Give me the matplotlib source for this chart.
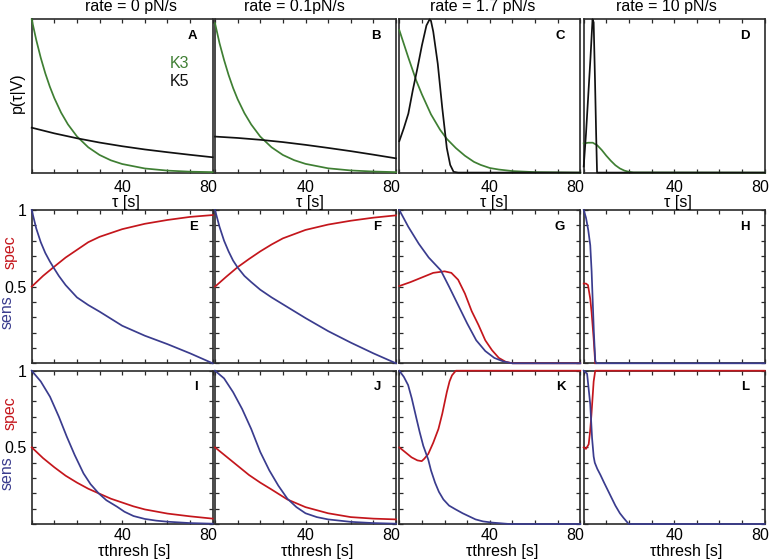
import matplotlib
matplotlib.use("Agg")
import matplotlib.pyplot as plt
import matplotlib.transforms as mtransforms
import numpy as np

plt.rcParams['font.family'] = ['Liberation Sans', 'DejaVu Sans']

W, H = 769, 559

# ---------------- data ----------------
titles = ["rate = 0 pN/s", "rate = 0.1pN/s", "rate = 1.7 pN/s", "rate = 10 pN/s"]
letters = ["A", "B", "C", "D", "E", "F", "G", "H", "I", "J", "K", "L"]
xtick_values = [40, 80]
xtick_text = ["40", "80"]
ytick_labels = {0.5: "0.5", 1.0: "1"}

# Row 1: p(tau|V), normalized per panel; green = K3, black = K5
A_k3_x = [0, 2, 4, 6, 8, 10, 13, 16, 20, 25, 30, 35, 40, 50, 60, 70, 80]
A_k3_y = [1.0, 0.866, 0.749, 0.648, 0.561, 0.486, 0.391, 0.315, 0.236, 0.165, 0.115, 0.080, 0.056, 0.027, 0.013, 0.006, 0.003]
A_k5_x = [0, 10, 20, 30, 40, 50, 60, 70, 80]
A_k5_y = [0.293, 0.256, 0.224, 0.196, 0.172, 0.151, 0.133, 0.116, 0.100]

B_k3_x = [0, 2, 4, 6, 8, 10, 13, 16, 20, 25, 30, 35, 40, 50, 60, 70, 80]
B_k3_y = [0.975, 0.844, 0.735, 0.637, 0.552, 0.479, 0.388, 0.314, 0.235, 0.165, 0.115, 0.081, 0.057, 0.028, 0.014, 0.007, 0.003]
B_k5_x = [0, 10, 20, 30, 40, 50, 60, 70, 80]
B_k5_y = [0.235, 0.226, 0.214, 0.199, 0.181, 0.161, 0.140, 0.117, 0.093]

C_k3_x = [0, 4, 7.5, 10, 14, 18, 21, 25, 29, 33, 36, 40, 44, 50, 60, 80]
C_k3_y = [0.93, 0.75, 0.60, 0.51, 0.38, 0.28, 0.22, 0.16, 0.11, 0.07, 0.05, 0.03, 0.02, 0.01, 0.003, 0.0]
C_k5_x = [0, 2, 4, 6, 8, 10, 12, 13.4, 14, 15, 17, 19, 21, 22.5, 24, 26, 80]
C_k5_y = [0.205, 0.29, 0.385, 0.54, 0.68, 0.83, 0.96, 1.0, 0.99, 0.92, 0.71, 0.42, 0.16, 0.05, 0.005, 0.0, 0.0]

D_k3_x = [0, 2, 4, 6, 8, 10, 12, 14, 16, 18, 20, 22, 80]
D_k3_y = [0.19, 0.195, 0.195, 0.178, 0.147, 0.11, 0.077, 0.048, 0.027, 0.013, 0.005, 0.001, 0.0]
D_k5_x = [0, 1, 2, 3, 3.9, 4.4, 5, 5.5, 5.9, 80]
D_k5_y = [0.04, 0.25, 0.5, 0.75, 1.0, 0.98, 0.6, 0.25, 0.0, 0.0]

# Row 2: sens (blue) / spec (red)
E_sens_x = [0, 2, 4, 6, 8, 9.6, 12, 15, 20, 25, 30, 40, 50, 60, 70, 80]
E_sens_y = [1.0, 0.88, 0.79, 0.72, 0.665, 0.626, 0.57, 0.51, 0.43, 0.38, 0.337, 0.245, 0.18, 0.125, 0.065, 0.0]
E_spec_x = [0, 5, 9.6, 15, 20, 25, 30, 40, 50, 60, 70, 80]
E_spec_y = [0.5, 0.57, 0.626, 0.69, 0.74, 0.79, 0.825, 0.875, 0.91, 0.935, 0.955, 0.967]

F_sens_x = [0, 2, 4, 6, 8, 10, 13, 16, 20, 25, 30, 40, 50, 60, 70, 80]
F_sens_y = [1.0, 0.89, 0.80, 0.73, 0.67, 0.625, 0.57, 0.53, 0.48, 0.43, 0.385, 0.295, 0.21, 0.135, 0.065, 0.0]
F_spec_x = [0, 5, 9.9, 15, 20, 25, 30, 40, 50, 60, 70, 80]
F_spec_y = [0.5, 0.565, 0.626, 0.68, 0.73, 0.775, 0.815, 0.87, 0.905, 0.93, 0.95, 0.965]

G_sens_x = [0, 4, 8.6, 13, 18.3, 22, 26, 30, 34, 38, 42, 46, 50, 80]
G_sens_y = [1.0, 0.89, 0.78, 0.69, 0.607, 0.5, 0.38, 0.26, 0.15, 0.08, 0.035, 0.012, 0.0, 0.0]
G_spec_x = [0, 5, 10, 15, 20, 23, 26, 29, 32, 35, 38, 41, 44, 47, 50, 80]
G_spec_y = [0.504, 0.53, 0.56, 0.59, 0.60, 0.59, 0.545, 0.455, 0.34, 0.25, 0.15, 0.085, 0.035, 0.01, 0.0, 0.0]

H_sens_x = [0, 1, 2, 2.9, 3.5, 4, 4.5, 5.1, 5.5, 80]
H_sens_y = [1.0, 0.95, 0.87, 0.77, 0.6, 0.4, 0.2, 0.02, 0.0, 0.0]
H_spec_x = [0, 1, 1.9, 2.9, 3.5, 4.4, 5.1]
H_spec_y = [0.52, 0.52, 0.51, 0.42, 0.33, 0.16, 0.0]

# Row 3: sens (blue) / spec (red)
I_sens_x = [0, 4, 8.1, 12, 15.5, 19, 22.9, 26, 29.6, 33, 37.7, 41, 45, 50, 55, 60, 70, 80]
I_sens_y = [1.0, 0.93, 0.83, 0.7, 0.57, 0.45, 0.33, 0.26, 0.2, 0.155, 0.113, 0.08, 0.052, 0.033, 0.022, 0.015, 0.006, 0.002]
I_spec_x = [0, 5, 10, 15, 20, 25, 29.6, 35, 40, 45, 50, 60, 70, 80]
I_spec_y = [0.5, 0.43, 0.37, 0.315, 0.27, 0.23, 0.2, 0.165, 0.14, 0.115, 0.095, 0.068, 0.05, 0.035]

J_sens_x = [0, 4, 8, 12, 16, 20, 24, 28, 32, 36, 40, 45, 50, 60, 70, 80]
J_sens_y = [1.0, 0.95, 0.86, 0.75, 0.62, 0.47, 0.35, 0.25, 0.165, 0.11, 0.07, 0.045, 0.03, 0.014, 0.006, 0.002]
J_spec_x = [0, 5, 10, 15, 20, 25, 32, 40, 50, 60, 70, 80]
J_spec_y = [0.5, 0.44, 0.38, 0.32, 0.27, 0.225, 0.16, 0.11, 0.07, 0.045, 0.035, 0.03]

K_sens_x = [0, 2, 3.9, 5.5, 7.6, 9, 10.6, 12.8, 14, 15.8, 17.5, 19.5, 22, 24.8, 28, 33.7, 37, 41.2, 48.7, 80]
K_sens_y = [1.0, 0.96, 0.906, 0.82, 0.687, 0.6, 0.51, 0.42, 0.35, 0.27, 0.21, 0.16, 0.12, 0.096, 0.07, 0.03, 0.017, 0.009, 0.0, 0.0]
K_spec_x = [0, 2.5, 5.4, 8, 9.9, 11, 12.8, 15, 17.3, 19, 21, 22.2, 23.3, 25, 80]
K_spec_y = [0.5, 0.47, 0.435, 0.415, 0.41, 0.425, 0.457, 0.53, 0.62, 0.72, 0.86, 0.93, 0.97, 1.0, 1.0]

L_sens_x = [0, 1.5, 2.9, 3.7, 4.4, 4.9, 6, 7.4, 9, 11, 14, 16, 17.6, 19.9, 80]
L_sens_y = [1.0, 0.98, 0.78, 0.56, 0.44, 0.40, 0.36, 0.32, 0.27, 0.21, 0.12, 0.07, 0.04, 0.0, 0.0]
L_spec_x = [0, 1, 2.2, 2.8, 3.4, 4.4, 5.1, 80]
L_spec_y = [0.5, 0.49, 0.52, 0.6, 0.71, 0.93, 1.0, 1.0]

row1 = [(A_k3_x, A_k3_y, A_k5_x, A_k5_y), (B_k3_x, B_k3_y, B_k5_x, B_k5_y),
        (C_k3_x, C_k3_y, C_k5_x, C_k5_y), (D_k3_x, D_k3_y, D_k5_x, D_k5_y)]
row2 = [(E_sens_x, E_sens_y, E_spec_x, E_spec_y), (F_sens_x, F_sens_y, F_spec_x, F_spec_y),
        (G_sens_x, G_sens_y, G_spec_x, G_spec_y), (H_sens_x, H_sens_y, H_spec_x, H_spec_y)]
row3 = [(I_sens_x, I_sens_y, I_spec_x, I_spec_y), (J_sens_x, J_sens_y, J_spec_x, J_spec_y),
        (K_sens_x, K_sens_y, K_spec_x, K_spec_y), (L_sens_x, L_sens_y, L_spec_x, L_spec_y)]

# ---------------- style ----------------
GREEN = '#3f7f33'
BLACK = '#111111'
BLUE = '#3a3c8e'
RED = '#c4161c'
SPINE = '#2a2a2a'
FS = 11.5
LW = 1.25

fig = plt.figure(figsize=(W / 100, H / 100), dpi=100)

col_left = [31.7, 215.0, 399.3, 583.7]
col_w = 181.0
row_top = [19.3, 210.0, 370.7]
row_h = 153.3
xlabel_pad_px = {0: 7.0, 2: 3.5}
xlabel_dx_px = {40: 0.0, 80: -5.0}


def fx(x):
    return x / W


def fy(y):
    return 1 - y / H


def make_ax(r, c):
    ax = fig.add_axes([fx(col_left[c]), fy(row_top[r] + row_h), col_w / W, row_h / H])
    ax.set_xlim(0, 80)
    ax.set_ylim(0, 1)
    for s in ax.spines.values():
        s.set_color(SPINE)
        s.set_linewidth(1.2)
    ax.set_xticks(np.arange(0, 81, 10))
    ax.set_xticklabels([])
    if r in (0, 2):
        for v, t in zip(xtick_values, xtick_text):
            tr = mtransforms.blended_transform_factory(ax.transData, ax.transAxes) + \
                mtransforms.ScaledTranslation(xlabel_dx_px[v] / 100, -xlabel_pad_px[r] / 100,
                                              fig.dpi_scale_trans)
            ax.text(v, 0, t, transform=tr, ha='center', va='top', fontsize=FS, clip_on=False)
    if r == 0:
        ax.set_yticks([])
    else:
        yt = np.round(np.arange(0, 1.01, 0.1), 2)
        ax.set_yticks(yt)
        if c == 0:
            ax.set_yticklabels([ytick_labels.get(float(v), "") for v in yt])
        else:
            ax.set_yticklabels([])
    ax.tick_params(direction='in', length=3, width=0.9, color=SPINE,
                   top=True, right=(r != 0), labelsize=FS)
    ax.tick_params(axis='y', pad=4)
    return ax


axes = []
for r in range(3):
    for c in range(4):
        ax = make_ax(r, c)
        axes.append(ax)
        if r == 0:
            gx, gy, kx, ky = row1[c]
            ax.plot(gx, gy, color=GREEN, lw=LW, zorder=3, clip_on=False)
            ax.plot(kx, ky, color=BLACK, lw=LW, zorder=3, clip_on=False)
        else:
            sx, sy, px_, py_ = (row2 if r == 1 else row3)[c]
            ax.plot(px_, py_, color=RED, lw=LW, zorder=3, clip_on=False)
            ax.plot(sx, sy, color=BLUE, lw=LW, zorder=3.1, clip_on=False)
        ax.text(1 - 15 / col_w, 1 - 19.5 / row_h, letters[r * 4 + c], transform=ax.transAxes,
                ha='right', va='baseline', fontsize=9.5, fontweight='bold')

# titles
title_cx = [131, 294, 483, 666]
for t, cx in zip(titles, title_cx):
    fig.text(fx(cx), fy(11.5), t, ha='center', va='baseline', fontsize=FS)

# x labels
for c in range(4):
    cx = col_left[c] + col_w / 2
    fig.text(fx(cx + 4), fy(207.0), "τ [s]", ha='center', va='baseline', fontsize=FS)
    fig.text(fx(cx + 12), fy(556.0), "τthresh [s]", ha='center', va='baseline', fontsize=FS)

# legend in panel A
axA = axes[0]
axA.text((169.5 - col_left[0]) / col_w, 1 - (68 - row_top[0]) / row_h, "K3", color=GREEN,
         transform=axA.transAxes, ha='left', va='baseline', fontsize=FS)
axA.text((169.5 - col_left[0]) / col_w, 1 - (86 - row_top[0]) / row_h, "K5", color=BLACK,
         transform=axA.transAxes, ha='left', va='baseline', fontsize=FS)

# y labels
fig.text(fx(17), fy(93), "p(τ|V)", rotation=90, ha='center', va='center', fontsize=FS)
for dy in (0, row_top[2] - row_top[1]):
    fig.text(fx(6.8), fy(312 + dy), "sens", rotation=90, ha='center', va='center',
             fontsize=FS, color=BLUE)
    fig.text(fx(10.0), fy(252 + dy), "spec", rotation=90, ha='center', va='center',
             fontsize=FS, color=RED)

fig.savefig("out.png", dpi=100)
